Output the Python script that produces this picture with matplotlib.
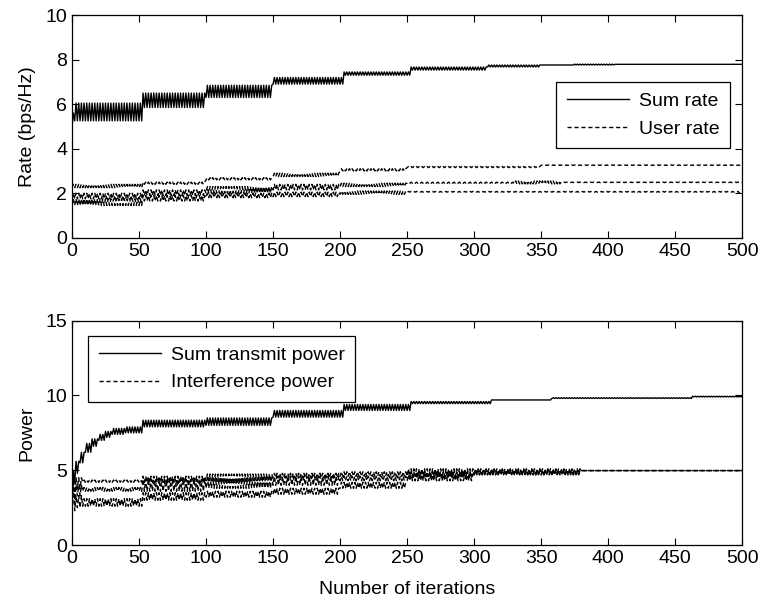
import numpy as np
import matplotlib.pyplot as plt

plt.rcParams["font.family"] = ["Liberation Sans", "DejaVu Sans"]
plt.rcParams["font.size"] = 14

# iteration axis
n_iter = 500

# each series: segment starts (iteration), then low / high values of the
# per-iteration oscillation for every segment
sum_rate_starts = [0, 2, 53, 100, 150, 203, 253, 310, 350, 375, 405, 501]
sum_rate_lo = [5.0, 5.25, 5.85, 6.3, 6.9, 7.3, 7.53, 7.67, 7.76, 7.76, 7.79]
sum_rate_hi = [5.6, 6.05, 6.5, 6.85, 7.2, 7.45, 7.67, 7.76, 7.76, 7.8, 7.79]

user_a_starts = [0, 53, 100, 150, 200, 250, 350, 501]
user_a_lo = [2.25, 2.4, 2.6, 2.75, 3.0, 3.15, 3.25]
user_a_hi = [2.4, 2.5, 2.7, 2.9, 3.1, 3.2, 3.27]

user_b_starts = [0, 53, 100, 150, 200, 250, 330, 365, 501]
user_b_lo = [1.75, 1.9, 2.0, 2.15, 2.3, 2.45, 2.42, 2.48]
user_b_hi = [2.0, 2.15, 2.3, 2.4, 2.45, 2.5, 2.55, 2.5]

user_c_starts = [0, 53, 100, 150, 200, 250, 498, 501]
user_c_lo = [1.45, 1.65, 1.8, 1.85, 1.95, 2.05, 2.0]
user_c_hi = [1.75, 1.9, 2.0, 2.05, 2.1, 2.08, 2.0]

power_starts = [0, 1, 3, 6, 10, 15, 20, 25, 30, 40, 53, 100, 150, 203, 253, 313, 358, 463, 501]
power_lo = [3.0, 4.2, 4.8, 5.5, 6.2, 6.6, 7.0, 7.2, 7.4, 7.5, 7.9, 8.0, 8.55, 9.0, 9.45, 9.7, 9.8, 9.9]
power_hi = [4.5, 5.0, 5.6, 6.2, 6.8, 7.1, 7.4, 7.6, 7.8, 7.9, 8.35, 8.5, 9.0, 9.4, 9.6, 9.7, 9.85, 9.95]

interf_starts = [0, 3, 8, 53, 100, 150, 200, 250, 300, 380, 501]
interf_d_lo = [3.0, 3.8, 4.2, 4.2, 4.3, 4.5, 4.6, 4.6, 4.8, 4.98]
interf_d_hi = [4.8, 4.5, 4.35, 4.6, 4.75, 4.8, 4.9, 5.1, 5.1, 4.98]
interf_e_lo = [2.8, 3.3, 3.6, 3.6, 3.8, 4.0, 4.3, 4.5, 4.7, 4.98]
interf_e_hi = [4.5, 4.0, 3.85, 4.4, 4.5, 4.6, 4.6, 4.9, 5.0, 4.98]
interf_f_lo = [2.3, 2.5, 2.6, 3.0, 3.2, 3.4, 3.8, 4.3, 4.7, 4.98]
interf_f_hi = [3.8, 3.3, 3.1, 3.5, 3.6, 3.8, 4.2, 4.7, 4.9, 4.98]


def expand(starts, lo, hi):
    # alternate between low and high value on every iteration
    lens = np.diff(starts)
    lo_full = np.repeat(lo, lens)
    hi_full = np.repeat(hi, lens)
    k = np.arange(len(lo_full))
    return k, np.where(k % 2 == 0, lo_full, hi_full)


def style_axes(ax):
    ax.tick_params(direction="in", length=5, width=0.8, top=True, right=True, labelsize=14)
    for s in ax.spines.values():
        s.set_linewidth(0.9)
    ax.set_xlim(0, n_iter)
    ax.set_xticks(np.arange(0, 501, 50))


def add_legend(ax, loc, anchor):
    leg = ax.legend(loc=loc, bbox_to_anchor=anchor, fancybox=False, edgecolor="k",
                    framealpha=1, handlelength=3.2, handletextpad=0.5, fontsize=14,
                    borderpad=0.55, labelspacing=0.5, borderaxespad=0)
    leg.get_frame().set_linewidth(0.9)


fig = plt.figure(figsize=(7.62, 6.05), dpi=100)
ax1 = fig.add_axes([0.0945, 0.607, 0.8795, 0.368])
ax2 = fig.add_axes([0.0945, 0.099, 0.8795, 0.371])

dash = (0, (3, 2))
lw = 1.0

x, y = expand(sum_rate_starts, sum_rate_lo, sum_rate_hi)
ax1.plot(x, y, "k-", lw=lw, label="Sum rate")
x, y = expand(user_a_starts, user_a_lo, user_a_hi)
ax1.plot(x, y, color="k", ls=dash, lw=lw, label="User rate")
x, y = expand(user_b_starts, user_b_lo, user_b_hi)
ax1.plot(x, y, color="k", ls=dash, lw=lw)
x, y = expand(user_c_starts, user_c_lo, user_c_hi)
ax1.plot(x, y, color="k", ls=dash, lw=lw)

style_axes(ax1)
ax1.set_ylim(0, 10)
ax1.set_yticks(np.arange(0, 11, 2))
ax1.set_ylabel("Rate (bps/Hz)", labelpad=7)
add_legend(ax1, "upper right", (0.982, 0.70))

x, y = expand(power_starts, power_lo, power_hi)
ax2.plot(x, y, "k-", lw=lw, label="Sum transmit power")
x, y = expand(interf_starts, interf_d_lo, interf_d_hi)
ax2.plot(x, y, color="k", ls=dash, lw=lw, label="Interference power")
x, y = expand(interf_starts, interf_e_lo, interf_e_hi)
ax2.plot(x, y, color="k", ls=dash, lw=lw)
x, y = expand(interf_starts, interf_f_lo, interf_f_hi)
ax2.plot(x, y, color="k", ls=dash, lw=lw)

style_axes(ax2)
ax2.set_ylim(0, 15)
ax2.set_yticks([0, 5, 10, 15])
ax2.set_ylabel("Power", labelpad=7)
ax2.set_xlabel("Number of iterations", labelpad=10)
add_legend(ax2, "upper left", (0.024, 0.933))

fig.savefig("out.png", dpi=100)
